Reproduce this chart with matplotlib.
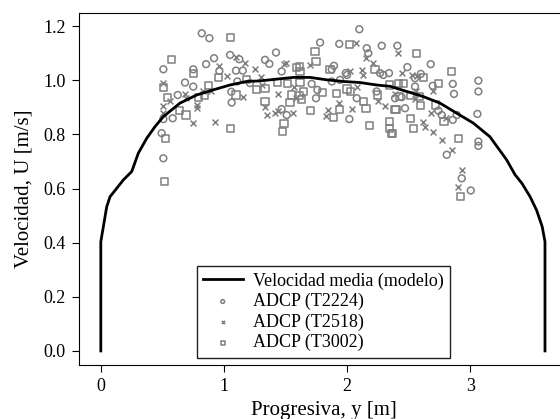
import matplotlib
matplotlib.use("Agg")
import matplotlib.pyplot as plt

plt.rcParams['font.family'] = ['Liberation Serif', 'DejaVu Serif']
plt.rcParams['mathtext.fontset'] = 'stix'

# Model curve (mean velocity)
model_y = [0, 0, 0.021, 0.048, 0.075, 0.129, 0.183, 0.251, 0.305, 0.373, 0.44, 0.508, 0.643,
           0.779, 0.914, 1.05, 1.185, 1.29, 1.375, 1.564, 1.70, 1.835, 1.97, 2.106, 2.24,
           2.35, 2.485, 2.62, 2.755, 2.89, 3.026, 3.16, 3.297, 3.365, 3.42, 3.487, 3.54,
           3.585, 3.608, 3.608]
model_u = [0, 0.404, 0.46, 0.533, 0.570, 0.601, 0.632, 0.663, 0.731, 0.786, 0.829, 0.866, 0.916,
           0.946, 0.965, 0.983, 0.996, 0.998, 1.002, 1.011, 1.011, 1.002, 0.996, 0.992, 0.983,
           0.978, 0.959, 0.940, 0.916, 0.879, 0.842, 0.792, 0.706, 0.651, 0.62, 0.57, 0.52,
           0.46, 0.404, 0]

# ADCP T2224 (circles)
t2224_y = [0.82, 0.882, 0.508, 0.92, 0.855, 0.963, 1.05, 1.125, 1.098, 1.153, 1.334, 1.109,
           1.212, 0.751, 0.751, 0.684, 0.625, 0.584, 0.508, 0.494, 0.508, 1.063, 1.06,
           2.10, 1.781, 1.937, 2.282, 2.16, 2.173, 1.423, 1.369, 1.469, 1.894, 1.876, 1.99,
           2.0, 2.268, 2.295, 2.341, 1.469, 1.51, 1.713, 1.759, 1.748, 1.876, 1.943, 2.019,
           2.079, 2.24, 2.39,
           2.409, 2.49, 2.68, 2.599, 2.552, 2.552, 2.696, 2.859, 3.067, 3.067, 2.869, 2.444,
           2.471, 2.742, 2.769, 2.859, 2.891, 3.059, 3.067, 3.067, 2.81, 2.932, 3.005]
t2224_u = [1.174, 1.156, 1.041, 1.082, 1.06, 1.035, 1.094, 1.078, 1.036, 1.036, 1.076, 0.996,
           0.99, 1.041, 0.977, 0.992, 0.946, 0.86, 0.857, 0.805, 0.712, 0.918, 0.958,
           1.189, 1.14, 1.135, 1.128, 1.119, 1.10, 1.103, 1.061, 1.033, 1.054, 1.041, 1.027,
           1.02, 1.027, 1.02, 1.027, 0.894, 0.872, 0.987, 0.965, 0.934, 0.996, 1.002, 0.857,
           0.934, 0.959, 0.934,
           1.128, 1.049, 1.06, 1.024, 1.008, 0.977, 0.98, 0.987, 0.999, 0.959, 0.95, 0.938,
           0.897, 0.888, 0.872, 0.854, 0.872, 0.876, 0.774, 0.758, 0.725, 0.638, 0.593]

# ADCP T2518 (crosses)
t2518_y = [0.963, 1.171, 1.098, 1.253, 1.028, 1.299, 0.508, 0.508, 0.508, 0.566, 0.684, 0.692,
           0.779, 0.779, 0.746, 0.928, 0.893, 0.833, 1.158,
           2.073, 2.154, 2.214, 1.504, 1.488, 1.70, 2.024, 2.119, 2.127, 1.307, 1.569, 1.586,
           1.442, 1.334, 1.353, 1.415, 1.442, 1.564, 1.848, 1.829, 1.937, 2.038, 2.079, 2.254,
           2.309,
           2.417, 2.444, 2.525, 2.566, 2.561, 2.696, 2.39, 2.552, 2.68, 2.804, 2.62, 2.634,
           2.696, 2.769, 2.851, 2.932, 2.904]
t2518_u = [1.054, 1.063, 1.086, 1.041, 1.017, 1.011, 0.992, 0.906, 0.879, 0.925, 0.95, 0.934,
           0.909, 0.897, 0.844, 0.848, 0.959, 0.959, 0.938,
           1.14, 1.082, 1.066, 1.066, 1.061, 1.057, 1.036, 1.039, 1.02, 0.983, 0.977, 0.934,
           0.95, 0.901, 0.872, 0.881, 0.885, 0.881, 0.891, 0.869, 0.918, 0.894, 0.977, 0.922,
           0.906,
           1.10, 1.029, 1.02, 1.017, 0.962, 0.962, 0.95, 0.93, 0.881, 0.86, 0.848, 0.827,
           0.811, 0.78, 0.743, 0.667, 0.607]

# ADCP T3002 (squares)
t3002_y = [1.05, 0.576, 0.751, 0.955, 1.18, 1.261, 1.334, 0.508, 0.54, 0.792, 0.846, 0.638,
           0.692, 1.055, 1.098, 0.522, 0.516, 0.873,
           2.019, 1.586, 1.612, 1.618, 1.748, 1.74, 1.862, 2.227, 1.434, 1.515, 1.618, 1.551,
           1.613, 1.632, 1.645, 1.334, 1.537, 1.488, 1.478, 1.70, 1.80, 1.889, 1.937, 1.916,
           2.0, 2.03, 2.133, 2.154, 2.181, 2.246, 2.344, 2.344, 2.344, 2.371, 2.398,
           2.561, 2.85, 2.62, 2.417, 2.457, 2.742, 2.425, 2.517, 2.587, 2.599, 2.715, 2.39,
           2.788, 2.517, 2.539, 2.363, 2.904, 2.924]
t3002_u = [1.16, 1.076, 1.024, 1.01, 1.002, 0.965, 0.971, 0.975, 0.938, 0.938, 0.943, 0.888,
           0.872, 0.823, 0.946, 0.786, 0.626, 0.98,
           1.131, 1.049, 1.051, 1.033, 1.07, 1.106, 1.039, 1.041, 0.992, 0.99, 0.992, 0.946,
           0.943, 0.928, 0.959, 0.922, 0.918, 0.842, 0.811, 0.888, 0.955, 0.864, 0.891, 0.95,
           0.968, 0.959, 0.922, 0.897, 0.832, 0.946, 0.983, 0.848, 0.823, 0.802, 0.894,
           1.10, 1.033, 1.012, 0.987, 0.987, 0.987, 0.94, 0.943, 0.94, 0.906, 0.909, 0.891,
           0.848, 0.86, 0.823, 0.805, 0.786, 0.57]

labels = ['Velocidad media (modelo)', 'ADCP (T2224)', 'ADCP (T2518)', 'ADCP (T3002)']
xticks = [0, 1, 2, 3]
yticks = [0.0, 0.2, 0.4, 0.6, 0.8, 1.0, 1.2]

fig = plt.figure(figsize=(5.6, 4.19), dpi=100)
ax = fig.add_axes([0.1411, 0.1289, 0.8732, 0.8394])

gray = '#7f7f7f'
ax.plot(model_y, model_u, color='black', lw=2.0, label=labels[0], zorder=3)
ax.scatter(t2224_y, t2224_u, marker='o', s=24, facecolors='none', edgecolors=gray,
           linewidths=1.1, label=labels[1], zorder=2)
ax.scatter(t2518_y, t2518_u, marker='x', s=18, color=gray, linewidths=1.1,
           label=labels[2], zorder=2)
ax.scatter(t3002_y, t3002_u, marker='s', s=26, facecolors='none', edgecolors=gray,
           linewidths=1.1, label=labels[3], zorder=2)

ax.set_xlim(-0.177, 3.795)
ax.set_ylim(-0.052, 1.248)
ax.set_xticks(xticks)
ax.set_yticks(yticks)
ax.set_yticklabels([f"{v:.1f}" for v in yticks])
ax.tick_params(labelsize=13, length=5, pad=4.5)
ax.set_xlabel('Progresiva, y [m]', fontsize=15, labelpad=4)
ax.set_ylabel('Velocidad, U [m/s]', fontsize=15, labelpad=7)

leg = ax.legend(loc='lower center', fontsize=13, fancybox=False, edgecolor='#222222',
                framealpha=1, markerscale=0.55, handlelength=2.2, handletextpad=0.6,
                labelspacing=0.18, borderaxespad=0.4, borderpad=0.35)
leg.get_frame().set_linewidth(1.0)

fig.savefig('out.png', dpi=100)
